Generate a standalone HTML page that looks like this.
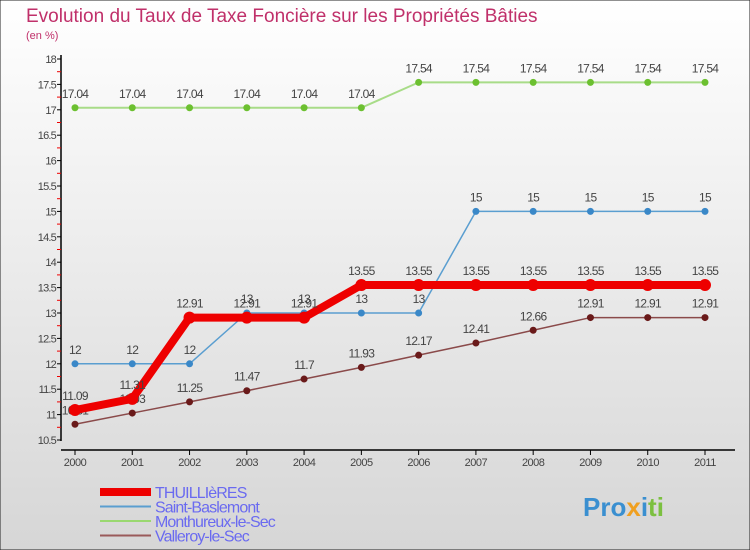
<!DOCTYPE html>
<html><head><meta charset="utf-8"><style>
body{margin:0;width:750px;height:550px;overflow:hidden;font-family:"Liberation Sans",sans-serif}
svg{display:block}
</style></head><body>
<svg id="c" width="750" height="550" xmlns="http://www.w3.org/2000/svg">
<defs><linearGradient id="bg" x1="0" y1="0" x2="0" y2="1"><stop offset="0" stop-color="#ffffff"/><stop offset="1" stop-color="#d6d6d6"/></linearGradient></defs>
<rect x="0" y="0" width="750" height="550" fill="url(#bg)" stroke="#222" stroke-width="1"/>
<text x="26" y="22" font-size="19" fill="#c0306a">Evolution du Taux de Taxe Foncière sur les Propriétés Bâties</text>
<text x="26" y="39" font-size="11" fill="#c0306a">(en %)</text>
<g id="axes"></g>
<g id="series"></g>
<g id="legend"></g>
<text x="583" y="516" font-size="26" font-weight="bold" fill="#3a8fd0">Pro<tspan fill="#f0a020">x</tspan><tspan fill="#3a8fd0">i</tspan><tspan fill="#7cc040">ti</tspan></text>
</svg>
<script>
const years=["2000","2001","2002","2003","2004","2005","2006","2007","2008","2009","2010","2011"];
const yTicks=[10.5,11,11.5,12,12.5,13,13.5,14,14.5,15,15.5,16,16.5,17,17.5,18];
const thuillieres=[11.09,11.31,12.91,12.91,12.91,13.55,13.55,13.55,13.55,13.55,13.55,13.55];
const saintBaslemont=[12,12,12,13,13,13,13,15,15,15,15,15];
const monthureux=[17.04,17.04,17.04,17.04,17.04,17.04,17.54,17.54,17.54,17.54,17.54,17.54];
const valleroy=[10.81,11.03,11.25,11.47,11.7,11.93,12.17,12.41,12.66,12.91,12.91,12.91];
const NS="http://www.w3.org/2000/svg";
const xS=i=>75+i*(630/11);
const yS=v=>440-(v-10.5)*50.8;
function mk(tag,attrs,parent,text){const e=document.createElementNS(NS,tag);for(const k in attrs)e.setAttribute(k,attrs[k]);if(text!==undefined)e.textContent=text;parent.appendChild(e);return e;}
const ax=document.getElementById('axes');
let e=mk('line',{x1:61,y1:55,x2:61,y2:441,stroke:'#000','stroke-width':1.5},ax);


e=mk('line',{x1:61,y1:450,x2:735,y2:450,stroke:'#000','stroke-width':1.5},ax);


yTicks.forEach((v,k)=>{const y=yS(v);
 mk('line',{x1:57,y1:y,x2:61,y2:y,stroke:'#000'},ax);
 if(k<yTicks.length-1) mk('line',{x1:57,y1:y-12.7,x2:61,y2:y-12.7,stroke:'#e00'},ax);
 const t=mk('text',{x:56,y:y+4,'font-size':11,fill:'#444','text-anchor':'end','letter-spacing':'-0.8'},ax,String(v));
 
 
});
years.forEach((yr,i)=>{const x=xS(i);
 mk('line',{x1:x,y1:450,x2:x,y2:455,stroke:'#000'},ax);
 const t=mk('text',{x:x,y:466,'font-size':11,fill:'#444','text-anchor':'middle','letter-spacing':'-0.5'},ax,yr);
 
 
});
const sg=document.getElementById('series');
function series(vals,color,w,r,dot,name){
 const g=mk('g',{},sg);
 
 
 const pl=mk('polyline',{points:vals.map((v,i)=>xS(i)+','+yS(v)).join(' '),fill:'none',stroke:color,'stroke-width':w,'stroke-linejoin':'round'},g);
 
 
 vals.forEach((v,i)=>{
  const c=mk('circle',{cx:xS(i),cy:yS(v),r:r,fill:dot},g);
  
  
  const t=mk('text',{x:xS(i),y:yS(v)-10,'font-size':12,fill:'#444','text-anchor':'middle','letter-spacing':'-0.7'},g,String(v));
  
  
 });
}
series(monthureux,'#a8dc88',2,3.5,'#6cc030','monthureux');
series(saintBaslemont,'#5a9ed0',1.5,3.5,'#3a88c8','saint-baslemont');
series(valleroy,'#8a4a4a',1.5,3.5,'#6a1a1a','valleroy');
series(thuillieres,'#ee0000',8,6,'#ee0000','thuillieres');
const lg=document.getElementById('legend');
const leg=[["THUILLIèRES","#ee0000",8],["Saint-Baslemont","#5a9ed0",2],["Monthureux-le-Sec","#9ad870",2],["Valleroy-le-Sec","#9a5a5a",2]];
leg.forEach((l,i)=>{const y=492+i*14.5;
 const g=mk('g',{},lg);
 
 
 mk('line',{x1:100,y1:y,x2:151,y2:y,stroke:l[1],'stroke-width':l[2]},g);
 mk('text',{x:155,y:y+6,'font-size':16,fill:'#6a6af0','letter-spacing':'-0.9'},g,l[0]);
});
</script>
</body></html>
